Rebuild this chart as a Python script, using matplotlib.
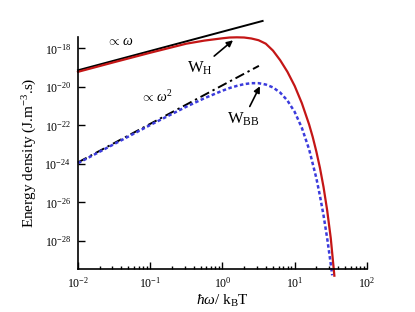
import numpy as np
import matplotlib
matplotlib.use("Agg")
import matplotlib.pyplot as plt
from matplotlib.ticker import NullLocator, LogLocator

plt.rcParams['font.family'] = ['Liberation Serif', 'DejaVu Serif']
plt.rcParams['mathtext.fontset'] = 'custom'
plt.rcParams['mathtext.rm'] = 'Liberation Serif'
plt.rcParams['mathtext.it'] = 'Liberation Serif:italic'

# log10(hbar*omega/kT) and log10(energy density)
log_x_wh = [-2.0, -1.5, -1.0, -0.5, -0.25, 0.0, 0.1, 0.2, 0.3, 0.4, 0.5,
            0.6, 0.7, 0.8, 0.9, 1.0, 1.1, 1.2, 1.25, 1.3, 1.35, 1.4, 1.45,
            1.5, 1.55]
log_wh = [-19.22, -18.72, -18.23, -17.76, -17.60, -17.48, -17.44, -17.43,
          -17.44, -17.49, -17.58, -17.76, -18.12, -18.62, -19.22, -19.95,
          -20.85, -21.95, -22.60, -23.35, -24.20, -25.20, -26.40, -27.85,
          -29.80]

log_x_wbb = [-2.0, -1.5, -1.0, -0.5, -0.25, 0.0, 0.1, 0.2, 0.3, 0.4, 0.5,
             0.6, 0.7, 0.8, 0.9, 1.0, 1.1, 1.2, 1.3, 1.35, 1.4, 1.45, 1.5,
             1.52]
log_wbb = [-23.96, -22.97, -21.98, -21.03, -20.59, -20.20, -20.06, -19.95,
           -19.86, -19.81, -19.81, -19.88, -20.03, -20.30, -20.71, -21.30,
           -22.13, -23.24, -24.73, -25.65, -26.67, -27.85, -29.19, -29.78]

# guide lines  (prop. to omega, prop. to omega^2)
lin_x = [0.01, 3.6]
lin_y = [10**-19.14, 10**-16.58]
sq_x = [0.01, 3.2]
sq_y = [10**-23.92, 10**-18.91]

fig = plt.figure(figsize=(4.15, 3.12), dpi=100)
ax = fig.add_axes([0.188, 0.138, 0.696, 0.743])

ax.plot(lin_x, lin_y, color='black', lw=1.4, clip_on=False)
ax.plot(sq_x, sq_y, color='black', lw=1.4, ls=(0, (5, 2, 1.2, 2)), clip_on=False)
ax.plot(10**np.array(log_x_wbb), 10**np.array(log_wbb), color='#3b3bdc',
        lw=1.8, ls=(0, (1.4, 1.0)), clip_on=False)
ax.plot(10**np.array(log_x_wh), 10**np.array(log_wh), color='#c41616',
        lw=1.6, clip_on=False)

ax.set_xscale('log')
ax.set_yscale('log')
ax.set_xlim(1e-2, 1e2)
ax.set_ylim(10**-29.45, 10**-17.42)

ax.set_yticks([1e-18, 1e-20, 1e-22, 1e-24, 1e-26, 1e-28])
ax.yaxis.set_minor_locator(NullLocator())
ax.set_xticks([1e-2, 1e-1, 1e0, 1e1, 1e2])
ax.xaxis.set_minor_locator(LogLocator(base=10, subs=np.arange(2, 10)))

ax.tick_params(which='both', direction='in', labelsize=8.5, width=1)
ax.tick_params(which='major', length=5)
ax.tick_params(which='minor', length=2.5)
ax.tick_params(axis='x', pad=5)
ax.tick_params(axis='y', pad=5)

for side in ['top', 'right']:
    ax.spines[side].set_visible(False)
for side in ['left', 'bottom']:
    ax.spines[side].set_linewidth(1.2)

ax.set_xlabel(r'$\hbar\omega$/ k$_\mathrm{B}$T', fontsize=11, labelpad=2)
ax.set_ylabel(r'Energy density (J.m$^{-3}$.s)', fontsize=11, labelpad=4)

ax.text(0.038, 2.3e-18, r'$\propto\,\omega$', fontsize=10, ha='center', va='center')
ax.text(0.124, 2.9e-21, r'$\propto\,\omega^2$', fontsize=10, ha='center', va='center')
ax.annotate(r'W$_\mathrm{H}$', xy=(1.40, 2.6e-18), xytext=(0.48, 9e-20),
            fontsize=12, ha='center', va='center',
            arrowprops=dict(arrowstyle='-|>', color='black', lw=1.2,
                            mutation_scale=9, shrinkA=1, shrinkB=0))
ax.annotate(r'W$_\mathrm{BB}$', xy=(3.3, 1.07e-20), xytext=(1.95, 2.1e-22),
            fontsize=12, ha='center', va='center',
            arrowprops=dict(arrowstyle='-|>', color='black', lw=1.2,
                            mutation_scale=9, shrinkA=1, shrinkB=0))

fig.savefig('out.png', dpi=100)
